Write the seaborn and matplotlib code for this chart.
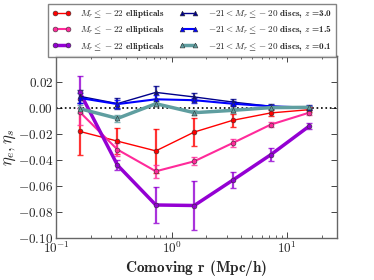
import numpy as np
import pandas as pd
import matplotlib
matplotlib.use('Agg')
import matplotlib.pyplot as plt
import seaborn as sns

# separation bins (Mpc/h)
r_bins = [0.16, 0.34, 0.73, 1.57, 3.37, 7.2, 15.5]

# ellipticals
ell_red = [-0.018, -0.0255, -0.033, -0.0185, -0.0095, -0.0038, -0.0013]
ell_red_err = [0.018, 0.010, 0.017, 0.011, 0.005, 0.002, 0.002]
ell_pink = [-0.003, -0.032, -0.0487, -0.041, -0.027, -0.0128, -0.0036]
ell_pink_err = [0.010, 0.005, 0.005, 0.003, 0.003, 0.002, 0.002]
ell_purple = [0.0123, -0.044, -0.0746, -0.075, -0.0556, -0.036, -0.014]
ell_purple_err = [0.012, 0.004, 0.0135, 0.019, 0.006, 0.005, 0.0025]

# discs
disc_z30 = [0.009, 0.0034, 0.012, 0.0085, 0.0046, 0.0013, 0.0003]
disc_z30_err = [0.005, 0.004, 0.005, 0.003, 0.002, 0.002, 0.002]
disc_z15 = [0.0077, 0.003, 0.0067, 0.006, 0.0033, 0.0013, 0.0003]
disc_z15_err = [0.004, 0.003, 0.003, 0.002, 0.002, 0.001, 0.001]
disc_z01 = [-0.0005, -0.008, 0.0033, -0.0036, -0.0018, 0.0003, 0.0005]
disc_z01_err = [0.003, 0.003, 0.002, 0.002, 0.002, 0.001, 0.001]

ell_label = r'$M_r \leq -22$ ellipticals'
disc_label = r'$-21 < M_r \leq -20$ discs, $z$ =%s'

series = [
    (ell_red, ell_red_err, ell_label, 'red', 'o', 1.0),
    (ell_pink, ell_pink_err, ell_label, '#ff2a9a', 'o', 1.5),
    (ell_purple, ell_purple_err, ell_label, '#9400d3', 'o', 2.5),
    (disc_z30, disc_z30_err, disc_label % '3.0', '#00008b', '^', 1.0),
    (disc_z15, disc_z15_err, disc_label % '1.5', 'blue', '^', 1.5),
    (disc_z01, disc_z01_err, disc_label % '0.1', 'cadetblue', '^', 2.5),
]

sns.set_style('ticks')
plt.rcParams['font.family'] = ['cmr10', 'DejaVu Serif']
plt.rcParams['mathtext.fontset'] = 'cm'
plt.rcParams['axes.formatter.use_mathtext'] = True
plt.rcParams['axes.unicode_minus'] = True

fig = plt.figure(figsize=(3.74, 2.80), dpi=100)
ax = fig.add_axes([0.15, 0.15, 0.751, 0.65])

handles = []
for vals, errs, lab, col, mk, lw in series:
    df = pd.DataFrame({'r': r_bins, 'eta': vals})
    ax.errorbar(r_bins, vals, yerr=errs, fmt='none', ecolor=col,
                elinewidth=1.6, capsize=2, capthick=1, alpha=0.8, zorder=2)
    sns.lineplot(data=df, x='r', y='eta', ax=ax, color=col, linewidth=lw,
                 marker=mk, markersize=3.5, markeredgecolor='#333333',
                 markeredgewidth=0.4, label=lab, legend=False, zorder=3)
    handles.append(ax.lines[-1])

ax.axhline(0, color='black', linestyle=':', linewidth=1.2, zorder=1)

ax.set_xscale('log')
ax.set_xlim(0.1, 27)
ax.set_ylim(-0.10, 0.04)
ax.set_yticks([-0.10, -0.08, -0.06, -0.04, -0.02, 0.00, 0.02])
ax.yaxis.set_major_formatter(matplotlib.ticker.FuncFormatter(
    lambda v, p: r'$%.2f$' % v if abs(v) > 1e-9 else r'$0.00$'))
ax.tick_params(which='both', direction='in', top=True, right=True, labelsize=9.5)
ax.tick_params(which='major', length=4, width=0.6, pad=2)
ax.tick_params(which='minor', length=2, width=0.5)
for sp in ax.spines.values():
    sp.set_color('#666666')
    sp.set_linewidth(1.0)

ax.set_xlabel(r'Comoving $\mathbf{r}$ (Mpc/$\mathbf{h}$)', fontsize=11,
              family='cmb10', labelpad=1)
ax.set_ylabel(r'$\eta_e, \eta_s$', fontsize=12, labelpad=0)

leg = fig.legend(handles=handles, labels=[s[2] for s in series], ncol=2,
                 loc='upper left', bbox_to_anchor=(0.128, 0.825, 0.77, 0.16),
                 mode='expand', numpoints=2, handlelength=2.0,
                 prop={'family': 'cmb10', 'size': 6.6}, frameon=True,
                 fancybox=False, borderpad=0.45, labelspacing=0.45,
                 columnspacing=0.8, handletextpad=1.1, borderaxespad=0)
leg.get_frame().set_edgecolor('#666666')
leg.get_frame().set_linewidth(1.0)

fig.savefig('out.png', dpi=100)
